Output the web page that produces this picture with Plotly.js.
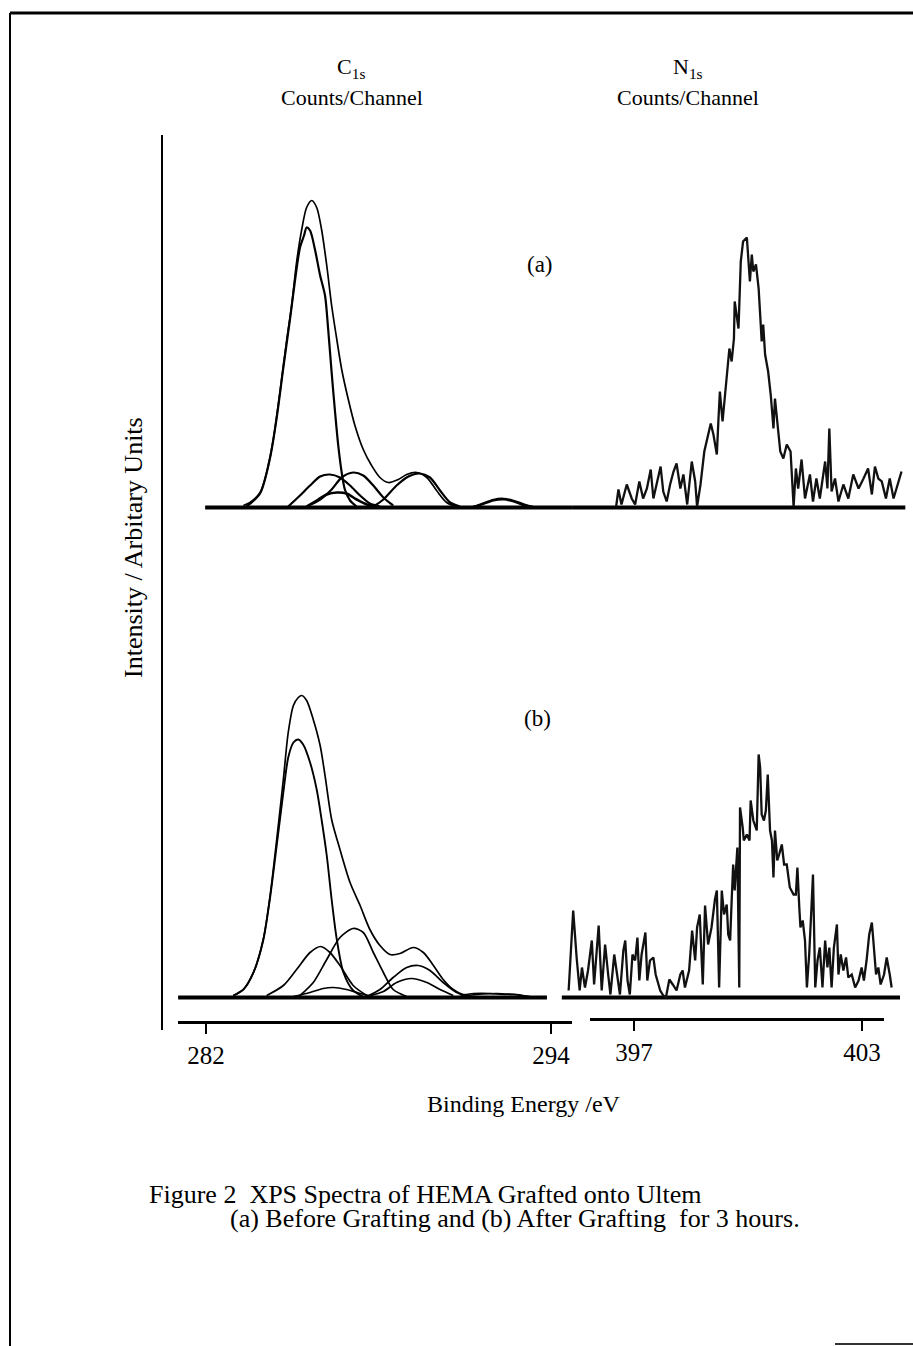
<!DOCTYPE html>
<html>
<head>
<meta charset="utf-8">
<script src="https://cdn.plot.ly/plotly-3.0.1.min.js"></script>
<style>
html,body{margin:0;padding:0;background:#fff;}
#chart{width:913px;height:1346px;}
</style>
</head>
<body>
<div id="chart"></div>
<script>
// ---------------- DATA (binding energy in eV, intensity in arbitrary units) ----------------
// Panel (a) C1s : envelope + fitted components
const c1sA_env_E = [283.30,283.53,283.88,284.11,284.34,284.57,284.81,284.98,285.15,285.33,285.50,285.68,285.85,286.02,286.20,286.37,286.55,286.72,286.95,287.18,287.47,287.76,288.05,288.34,288.69,288.98,289.33,289.68,290.02,290.37,290.72,291.20,291.60,292.00,292.35,292.70,293.10,293.50];
const c1sA_env_I = [2,5,15,35,68,115,168,202,245,278,300,307,300,278,242,202,168,138,108,82,58,42,30,25,28,33,35,30,17,5,1,0,4,8,9,7,3,0];
const c1sA_p1_E = [283.41,283.88,284.23,284.46,284.69,284.92,285.10,285.27,285.41,285.50,285.62,285.79,285.97,286.14,286.25,286.37,286.49,286.60,286.72,286.83,287.01,287.24];
const c1sA_p1_I = [1,14,50,90,140,188,228,260,272,280,277,258,232,212,178,135,95,62,35,18,7,1];
const c1sA_p2_E = [284.86,285.27,285.62,285.97,286.31,286.66,287.01,287.36,287.70,288.05];
const c1sA_p2_I = [1,12,22,31,33,30,22,12,4,1];
const c1sA_p3_E = [285.50,285.97,286.37,286.72,287.12,287.47,287.82,288.17,288.51];
const c1sA_p3_I = [1,8,18,30,35,32,22,10,2];
const c1sA_p4_E = [285.50,285.85,286.20,286.55,286.89,287.24,287.59,287.94];
const c1sA_p4_I = [1,7,13,15,14,8,3,1];
const c1sA_p5_E = [287.82,288.17,288.63,289.04,289.44,289.79,290.14,290.49,290.83];
const c1sA_p5_I = [1,8,22,31,34,30,17,5,1];
const c1sA_p6_E = [291.20,291.60,292.00,292.35,292.70,293.10,293.50];
const c1sA_p6_I = [0,3,7,8,6,2,0];
const c1sA_scan = [281.97,294.73];

// Panel (a) N1s : raw counts
const n1sA_E = [396.53,396.59,396.67,396.81,396.94,397.03,397.14,397.24,397.34,397.44,397.51,397.62,397.70,397.77,397.86,397.95,398.04,398.12,398.22,398.30,398.40,398.52,398.61,398.66,398.75,398.85,398.93,399.02,399.09,399.18,399.22,399.26,399.33,399.44,399.51,399.57,399.63,399.65,399.75,399.81,399.87,399.97,400.01,400.05,400.10,400.14,400.21,400.28,400.32,400.36,400.40,400.45,400.53,400.60,400.67,400.71,400.77,400.85,400.93,401.02,401.12,401.20,401.26,401.32,401.41,401.50,401.63,401.71,401.80,401.89,402.03,402.09,402.14,402.20,402.29,402.38,402.51,402.64,402.77,402.91,403.04,403.16,403.26,403.34,403.43,403.52,403.63,403.73,403.83,403.91,404.04];
const n1sA_I = [1,18,3,23,9,3,26,9,19,38,9,29,41,16,6,23,36,44,19,33,3,46,26,1,23,56,69,84,73,53,86,116,86,129,159,146,169,206,179,246,266,270,249,226,253,236,243,219,193,166,183,153,136,112,79,109,86,56,49,63,56,1,39,19,48,9,33,6,29,9,46,19,79,16,29,6,23,9,33,19,29,39,13,41,29,26,9,29,9,19,36];
const n1sA_scan = [395.37,404.14];

// Panel (b) C1s : envelope + fitted components
const c1sB_env_E = [282.95,283.30,283.65,283.99,284.23,284.46,284.69,284.86,285.04,285.21,285.33,285.50,285.73,285.97,286.14,286.37,286.66,287.01,287.36,287.70,288.05,288.40,288.75,289.21,289.56,289.91,290.25,290.60,290.95,291.30,291.88,292.34,292.81,293.15,293.50];
const c1sB_env_I = [2,8,25,58,102,158,218,265,292,300,302,297,278,252,222,178,148,115,92,68,52,43,44,50,45,32,18,8,3,4,4,3,3,1,0];
const c1sB_p1_E = [282.95,283.30,283.65,283.99,284.23,284.46,284.69,284.86,285.04,285.21,285.38,285.62,285.85,286.02,286.20,286.37,286.55,286.78,287.12,287.47];
const c1sB_p1_I = [2,8,25,57,100,152,205,240,255,258,253,235,208,178,142,98,58,25,7,1];
const c1sB_p2_E = [284.11,284.69,285.15,285.62,285.99,286.31,286.66,287.12,287.59];
const c1sB_p2_I = [2,12,28,45,51,45,32,12,2];
const c1sB_p3_E = [285.27,285.73,286.20,286.66,287.12,287.47,287.82,288.17,288.51,288.98];
const c1sB_p3_I = [2,15,38,60,69,65,45,25,8,1];
const c1sB_p4_E = [285.04,285.62,286.08,286.43,286.89,287.36,287.82];
const c1sB_p4_I = [1,5,9,10,8,4,1];
const c1sB_p5_E = [287.59,288.05,288.51,288.98,289.38,289.79,290.25,290.72,291.07];
const c1sB_p5_I = [1,8,20,30,32,27,15,5,1];
const c1sB_p6_E = [287.59,288.17,288.63,289.15,289.68,290.14,290.60];
const c1sB_p6_I = [1,6,15,19,15,8,2];
const c1sB_p7_E = [290.83,291.42,292.11,292.69,293.27];
const c1sB_p7_I = [1,3,4,3,1];
const c1sB_scan = [281.03,293.86];

// Panel (b) N1s : raw counts
const n1sB_E = [395.28,395.40,395.49,395.57,395.63,395.71,395.79,395.89,395.95,396.02,396.07,396.15,396.24,396.32,396.38,396.48,396.56,396.63,396.72,396.77,396.83,396.89,396.96,397.03,397.09,397.14,397.20,397.30,397.35,397.42,397.51,397.57,397.69,397.77,397.84,397.93,398.02,398.12,398.22,398.28,398.34,398.45,398.53,398.61,398.66,398.73,398.81,398.87,398.95,399.04,399.13,399.18,399.24,399.31,399.37,399.44,399.48,399.53,399.57,399.61,399.65,399.72,399.77,399.79,399.86,399.89,399.97,400.04,400.07,400.14,400.23,400.28,400.32,400.36,400.42,400.47,400.52,400.58,400.63,400.67,400.71,400.77,400.82,400.89,400.95,401.02,401.10,401.20,401.26,401.30,401.35,401.38,401.44,401.50,401.55,401.61,401.67,401.71,401.77,401.83,401.89,401.96,402.03,402.09,402.14,402.20,402.26,402.34,402.38,402.44,402.51,402.58,402.64,402.73,402.82,402.91,402.99,403.05,403.12,403.19,403.26,403.32,403.37,403.43,403.49,403.58,403.65,403.73,403.78];
const n1sB_I = [7,87,40,7,30,10,27,57,13,43,72,7,53,23,3,43,23,3,47,57,17,3,43,37,60,17,43,65,17,37,40,23,7,2,0,18,13,7,23,27,10,27,67,37,70,83,13,92,53,70,98,107,10,107,83,93,63,57,97,133,107,150,10,190,170,157,163,157,197,177,167,243,230,183,177,187,223,167,157,120,167,137,143,153,133,133,110,103,103,130,90,70,77,57,10,43,90,123,10,37,50,10,57,30,50,10,50,73,23,43,27,40,20,23,10,17,30,17,37,63,75,50,23,30,13,23,40,23,10];
const n1sB_scan = [395.10,404.00];

// Axis tick labels
const c1sTicks = [282, 294];
const n1sTicks = [397, 403];

// ---------------- LAYOUT HELPERS ----------------
const W = 913, H = 1346;
const PX = v => v / W;
const PY = v => 1 - v / H;
const C_REF = [282, 206], C_SCALE = 28.75;   // [eV, px], px per eV
const N_REF = [397, 634], N_SCALE = 38.0;
const rangeFor = (d0, d1, ref, s) => [ref[0] + (d0 - ref[1]) / s, ref[0] + (d1 - ref[1]) / s];

const C_DOM = [172, 580], N_DOM = [552, 912];
const FONT = "'Liberation Serif', 'DejaVu Serif', serif";

function line(x, y, xa, ya, w) {
  return {x: x, y: y, xaxis: xa, yaxis: ya, type: 'scatter', mode: 'lines',
    line: {color: '#000', width: w, shape: 'spline', smoothing: 0.8},
    hoverinfo: 'skip', showlegend: false};
}
function raw(x, y, xa, ya) {
  return {x: x, y: y, xaxis: xa, yaxis: ya, type: 'scatter', mode: 'lines',
    line: {color: '#111', width: 2.3}, hoverinfo: 'skip', showlegend: false};
}
function base(scan, xa, ya) {
  return {x: scan, y: [0, 0], xaxis: xa, yaxis: ya, type: 'scatter', mode: 'lines',
    line: {color: '#000', width: 4}, hoverinfo: 'skip', showlegend: false};
}

const traces = [
  base(c1sA_scan, 'x', 'y'),
  line(c1sA_env_E, c1sA_env_I, 'x', 'y', 1.7),
  line(c1sA_p1_E, c1sA_p1_I, 'x', 'y', 2.2),
  line(c1sA_p2_E, c1sA_p2_I, 'x', 'y', 2.2),
  line(c1sA_p3_E, c1sA_p3_I, 'x', 'y', 2.2),
  line(c1sA_p4_E, c1sA_p4_I, 'x', 'y', 2.6),
  line(c1sA_p5_E, c1sA_p5_I, 'x', 'y', 2.2),
  line(c1sA_p6_E, c1sA_p6_I, 'x', 'y', 2.2),
  base(n1sA_scan, 'x2', 'y2'),
  raw(n1sA_E, n1sA_I, 'x2', 'y2'),
  base(c1sB_scan, 'x3', 'y3'),
  line(c1sB_env_E, c1sB_env_I, 'x3', 'y3', 1.7),
  line(c1sB_p1_E, c1sB_p1_I, 'x3', 'y3', 1.9),
  line(c1sB_p2_E, c1sB_p2_I, 'x3', 'y3', 1.7),
  line(c1sB_p3_E, c1sB_p3_I, 'x3', 'y3', 1.7),
  line(c1sB_p4_E, c1sB_p4_I, 'x3', 'y3', 1.7),
  line(c1sB_p5_E, c1sB_p5_I, 'x3', 'y3', 1.7),
  line(c1sB_p6_E, c1sB_p6_I, 'x3', 'y3', 1.7),
  line(c1sB_p7_E, c1sB_p7_I, 'x3', 'y3', 1.7),
  base(n1sB_scan, 'x4', 'y4'),
  raw(n1sB_E, n1sB_I, 'x4', 'y4'),
  // carriers for the drawn energy axes
  {x: c1sTicks, y: [0, 0], xaxis: 'x5', yaxis: 'y5', type: 'scatter', mode: 'markers',
   marker: {opacity: 0}, hoverinfo: 'skip', showlegend: false},
  {x: n1sTicks, y: [0, 0], xaxis: 'x6', yaxis: 'y5', type: 'scatter', mode: 'markers',
   marker: {opacity: 0}, hoverinfo: 'skip', showlegend: false}
];

const hidden = {visible: false, showgrid: false, zeroline: false, fixedrange: true};
const yRange = [-10, 320];
const yDomA = [PY(507.5 + 10), PY(507.5 - 320)];
const yDomB = [PY(997.5 + 10), PY(997.5 - 320)];

const layout = {
  width: W, height: H,
  margin: {l: 0, r: 0, t: 0, b: 0},
  paper_bgcolor: '#fff', plot_bgcolor: 'rgba(0,0,0,0)',
  showlegend: false,
  font: {family: FONT, color: '#000', size: 22},
  xaxis:  Object.assign({}, hidden, {domain: [PX(C_DOM[0]), PX(C_DOM[1])], range: rangeFor(C_DOM[0], C_DOM[1], C_REF, C_SCALE), anchor: 'y'}),
  yaxis:  Object.assign({}, hidden, {domain: yDomA, range: yRange, anchor: 'x'}),
  xaxis2: Object.assign({}, hidden, {domain: [PX(N_DOM[0]), PX(N_DOM[1])], range: rangeFor(N_DOM[0], N_DOM[1], N_REF, N_SCALE), anchor: 'y2'}),
  yaxis2: Object.assign({}, hidden, {domain: yDomA, range: yRange, anchor: 'x2'}),
  xaxis3: Object.assign({}, hidden, {domain: [PX(C_DOM[0]), PX(C_DOM[1])], range: rangeFor(C_DOM[0], C_DOM[1], C_REF, C_SCALE), anchor: 'y3'}),
  yaxis3: Object.assign({}, hidden, {domain: yDomB, range: yRange, anchor: 'x3'}),
  xaxis4: Object.assign({}, hidden, {domain: [PX(N_DOM[0]), PX(N_DOM[1])], range: rangeFor(N_DOM[0], N_DOM[1], N_REF, N_SCALE), anchor: 'y4'}),
  yaxis4: Object.assign({}, hidden, {domain: yDomB, range: yRange, anchor: 'x4'}),
  xaxis5: {
    domain: [PX(178), PX(572)], range: rangeFor(178, 572, C_REF, C_SCALE),
    anchor: 'free', position: PY(1022), side: 'bottom',
    showline: true, linecolor: '#000', linewidth: 3,
    ticks: 'outside', ticklen: 10, tickwidth: 2, tickcolor: '#000',
    tickvals: c1sTicks, ticktext: c1sTicks.map(String),
    tickfont: {family: FONT, size: 25, color: '#000'},
    showgrid: false, zeroline: false, fixedrange: true
  },
  xaxis6: {
    domain: [PX(590), PX(884)], range: rangeFor(590, 884, N_REF, N_SCALE),
    anchor: 'free', position: PY(1019), side: 'bottom',
    showline: true, linecolor: '#000', linewidth: 3,
    ticks: 'outside', ticklen: 10, tickwidth: 2, tickcolor: '#000',
    tickvals: n1sTicks, ticktext: n1sTicks.map(String),
    tickfont: {family: FONT, size: 25, color: '#000'},
    showgrid: false, zeroline: false, fixedrange: true
  },
  yaxis5: {
    domain: [PY(1030), PY(135)], range: [0, 1],
    anchor: 'free', position: PX(162),
    showline: true, linecolor: '#000', linewidth: 2,
    ticks: '', showticklabels: false, showgrid: false, zeroline: false, fixedrange: true
  },
  shapes: [
    {type: 'line', xref: 'paper', yref: 'paper', x0: PX(10), x1: PX(913), y0: PY(13), y1: PY(13), line: {color: '#000', width: 3}},
    {type: 'line', xref: 'paper', yref: 'paper', x0: PX(10), x1: PX(10), y0: PY(13), y1: PY(1346), line: {color: '#000', width: 2}},
    {type: 'line', xref: 'paper', yref: 'paper', x0: PX(835), x1: PX(913), y0: PY(1344), y1: PY(1344), line: {color: '#333', width: 2}}
  ],
  annotations: [
    {text: 'C<sub>1s</sub>', x: PX(351), y: PY(68), xref: 'paper', yref: 'paper', showarrow: false, xanchor: 'center', yanchor: 'middle', font: {family: FONT, size: 22}},
    {text: 'Counts/Channel', x: PX(352), y: PY(98), xref: 'paper', yref: 'paper', showarrow: false, xanchor: 'center', yanchor: 'middle', font: {family: FONT, size: 22}},
    {text: 'N<sub>1s</sub>', x: PX(688), y: PY(68), xref: 'paper', yref: 'paper', showarrow: false, xanchor: 'center', yanchor: 'middle', font: {family: FONT, size: 22}},
    {text: 'Counts/Channel', x: PX(688), y: PY(98), xref: 'paper', yref: 'paper', showarrow: false, xanchor: 'center', yanchor: 'middle', font: {family: FONT, size: 22}},
    {text: '(a)', x: PX(540), y: PY(265), xref: 'paper', yref: 'paper', showarrow: false, xanchor: 'center', yanchor: 'middle', font: {family: FONT, size: 23}},
    {text: '(b)', x: PX(537), y: PY(718), xref: 'paper', yref: 'paper', showarrow: false, xanchor: 'center', yanchor: 'middle', font: {family: FONT, size: 23}},
    {text: 'Intensity / Arbitary Units', x: PX(133), y: PY(548), xref: 'paper', yref: 'paper', showarrow: false, textangle: -90, xanchor: 'center', yanchor: 'middle', font: {family: FONT, size: 26}},
    {text: 'Binding Energy /eV', x: PX(524), y: PY(1104), xref: 'paper', yref: 'paper', showarrow: false, xanchor: 'center', yanchor: 'middle', font: {family: FONT, size: 24}},
    {text: 'Figure 2  XPS Spectra of HEMA Grafted onto Ultem', x: PX(147), y: PY(1194), xref: 'paper', yref: 'paper', showarrow: false, xanchor: 'left', yanchor: 'middle', font: {family: FONT, size: 26}},
    {text: '(a) Before Grafting and (b) After Grafting  for 3 hours.', x: PX(228), y: PY(1218), xref: 'paper', yref: 'paper', showarrow: false, xanchor: 'left', yanchor: 'middle', font: {family: FONT, size: 26}}
  ]
};

Plotly.newPlot('chart', traces, layout, {staticPlot: true, displayModeBar: false});
</script>
</body>
</html>
